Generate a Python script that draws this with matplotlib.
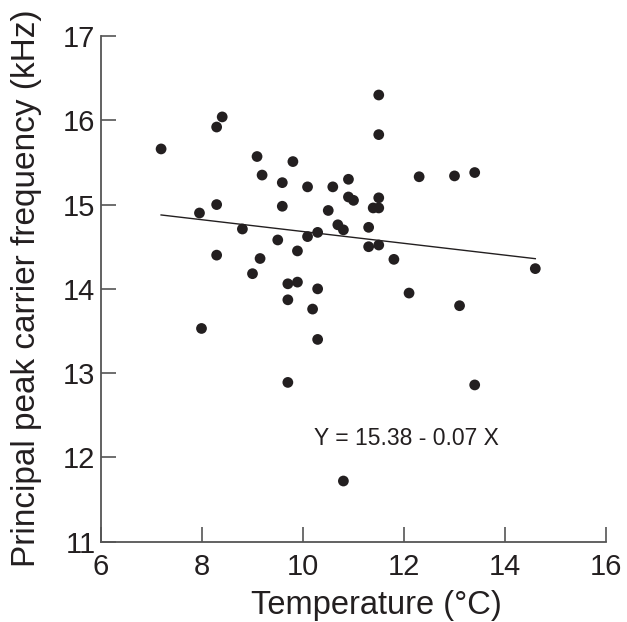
import matplotlib
matplotlib.use("Agg")
import matplotlib.pyplot as plt
import numpy as np

plt.rcParams['font.family'] = ['Liberation Sans', 'DejaVu Sans']

temperature = [7.19, 8.40, 8.29, 9.09, 9.80, 9.19, 9.59, 10.09, 10.59, 10.90,
               10.90, 11.00, 8.29, 9.59, 7.95, 10.50, 10.69, 10.80, 8.80, 10.29,
               10.09, 9.50, 9.89, 8.29, 9.15, 9.00, 9.70, 9.89, 10.29, 11.50,
               11.50, 12.30, 13.00, 13.40, 11.50, 11.39, 11.50, 11.30, 11.30, 11.50,
               11.80, 14.60, 12.10, 9.70, 10.19, 7.99, 10.29, 9.70, 10.80, 13.10,
               13.40]
frequency = [15.66, 16.04, 15.92, 15.57, 15.51, 15.35, 15.26, 15.21, 15.21, 15.30,
             15.09, 15.05, 15.00, 14.98, 14.90, 14.93, 14.76, 14.70, 14.71, 14.67,
             14.62, 14.58, 14.45, 14.40, 14.36, 14.18, 14.06, 14.08, 14.00, 16.30,
             15.83, 15.33, 15.34, 15.38, 15.08, 14.96, 14.96, 14.73, 14.50, 14.52,
             14.35, 14.24, 13.95, 13.87, 13.76, 13.53, 13.40, 12.89, 11.72, 13.80,
             12.86]

intercept = 15.38
slope = -0.07
x_ticks = [6, 8, 10, 12, 14, 16]
y_ticks = [11, 12, 13, 14, 15, 16, 17]
equation_label = "Y = 15.38 - 0.07 X"

fig = plt.figure(figsize=(6.27, 6.22), dpi=100)
ax = fig.add_axes([101/627, 1-541.7/622, 505/627, (541.7-36)/622])

ax.scatter(temperature, frequency, s=60, color='#231F20', edgecolors='none', zorder=3)

xfit = np.array([min(temperature), max(temperature)])
ax.plot(xfit, intercept + slope * xfit, color='#231F20', lw=1.0, zorder=2)

ax.text(12.04, 12.23, equation_label, fontsize=16.5, color='#231F20',
        ha='center', va='center')

ax.set_xlim(6, 16)
ax.set_ylim(11, 17)
ax.set_xticks(x_ticks)
ax.set_yticks(y_ticks)
ax.tick_params(direction='in', length=11, width=1.2, color='#555555',
               labelsize=21, labelcolor='#231F20')
ax.tick_params(axis='x', pad=8)
ax.tick_params(axis='y', pad=4)
for side in ['top', 'right']:
    ax.spines[side].set_visible(False)
for side in ['left', 'bottom']:
    ax.spines[side].set_color('#555555')
    ax.spines[side].set_linewidth(1.3)

ax.set_xlabel("Temperature (°C)", fontsize=23.5, color='#231F20')
ax.xaxis.set_label_coords((376.7-101)/505, -(614-541.7)/505.7)
ax.xaxis.label.set_va('baseline')
ax.set_ylabel("Principal peak carrier frequency (kHz)", fontsize=24, color='#231F20')
ax.yaxis.set_label_coords(-(101-35)/505, (541.7-288.5)/505.7)
ax.yaxis.label.set_va('baseline')

fig.savefig("out.png", dpi=100)
